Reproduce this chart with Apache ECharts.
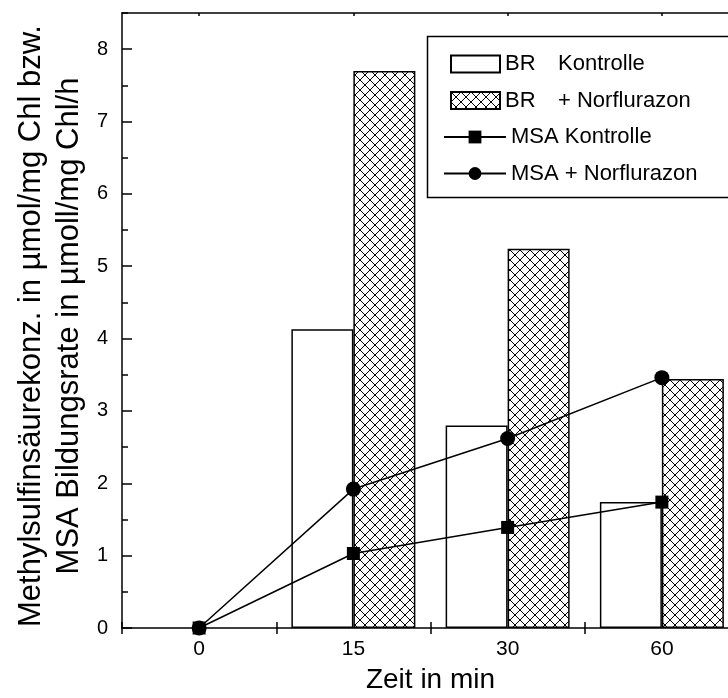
<!DOCTYPE html>
<html>
<head>
<meta charset="utf-8">
<script src="https://cdn.jsdelivr.net/npm/echarts@6/dist/echarts.min.js"></script>
<style>
  html, body { margin: 0; padding: 0; background: #fff; }
  #chart { width: 728px; height: 698px; }
</style>
</head>
<body>
<div id="chart"></div>
<script>
// Daten
const categories = ['0', '15', '30', '60'];
const brKontrolle = ['-', 4.13, 2.80, 1.74];
const brNorflurazon = ['-', 7.70, 5.24, 3.44];
const msaKontrolle = [0, 1.03, 1.39, 1.74];
const msaNorflurazon = [0, 1.92, 2.62, 3.46];
const yMin = 0, yMax = 8.5, yStep = 1, yMinorStep = 0.5;

const FONT = 'Liberation Sans, Arial, sans-serif';

// Kreuzschraffur als Pattern
function hatchPattern(size) {
  const c = document.createElement('canvas');
  c.width = size; c.height = size;
  const ctx = c.getContext('2d');
  ctx.fillStyle = '#fff';
  ctx.fillRect(0, 0, size, size);
  ctx.strokeStyle = '#000';
  ctx.lineWidth = 1;
  ctx.beginPath();
  for (const k of [-size, 0, size]) {
    ctx.moveTo(k, 0); ctx.lineTo(k + size, size);
    ctx.moveTo(k + size, 0); ctx.lineTo(k, size);
  }
  ctx.stroke();
  return c;
}

const chart = echarts.init(document.getElementById('chart'));

const barBorder = { borderColor: '#000', borderWidth: 1.5 };

chart.setOption({
  animation: false,
  backgroundColor: '#fff',
  textStyle: { fontFamily: FONT, color: '#000' },
  // Plotfläche läuft rechts über den Rand hinaus (wie im Original abgeschnitten)
  grid: { left: 122, top: 13, width: 617, bottom: 70, containLabel: false, outerBoundsMode: 'none' },
  legend: [
    {
      data: ['BR Kontrolle', 'BR + Norflurazon'],
      orient: 'vertical', left: 445, top: 48, icon: 'rect',
      itemWidth: 49, itemHeight: 17, itemGap: 14.5, itemTextGap: 13,
      formatter: n => '{a|BR}{b|' + n.replace('BR ', '') + '}',
      textStyle: {
        fontFamily: FONT, fontSize: 22, color: '#000', lineHeight: 22,
        rich: {
          a: { width: 53, fontSize: 22, fontFamily: FONT, color: '#000' },
          b: { fontSize: 22, fontFamily: FONT, color: '#000' }
        }
      }
    },
    {
      data: ['MSA Kontrolle', 'MSA + Norflurazon'],
      orient: 'vertical', left: 438, top: 121,
      itemWidth: 62, itemHeight: 16, itemGap: 14.5, itemTextGap: 4,
      textStyle: { fontFamily: FONT, fontSize: 22, color: '#000', lineHeight: 22 }
    }
  ],
  graphic: [
    {
      type: 'rect', left: 425, top: 34, z: 10,
      shape: { width: 302, height: 161 },
      style: { fill: null, stroke: '#000', lineWidth: 1.5 }
    },
    {
      type: 'text', x: 50, y: 326, rotation: Math.PI / 2,
      style: {
        text: 'Methylsulfinsäurekonz. in µmol/mg Chl bzw.\nMSA Bildungsrate in µmoll/mg Chl/h',
        font: '31px ' + FONT, fill: '#000', lineHeight: 38,
        textAlign: 'center', textVerticalAlign: 'middle'
      }
    }
  ],
  xAxis: [
    {
      type: 'category', data: categories, position: 'bottom',
      name: 'Zeit in min', nameLocation: 'middle', nameGap: 38,
      nameTextStyle: { fontFamily: FONT, fontSize: 28, color: '#000' },
      axisLine: { lineStyle: { color: '#000', width: 1.5 } },
      axisTick: { show: true, length: 6, interval: 0, lineStyle: { color: '#000', width: 1.5 } },
      axisLabel: { fontFamily: FONT, fontSize: 21, color: '#000', margin: 11 },
      splitLine: { show: false }
    },
    {
      type: 'category', data: categories, position: 'bottom',
      axisLine: { show: false },
      axisTick: { show: true, inside: true, length: 6, interval: 0, lineStyle: { color: '#000', width: 1.5 } },
      axisLabel: { show: false },
      splitLine: { show: false }
    },
    {
      type: 'category', data: categories, position: 'top',
      axisLine: { lineStyle: { color: '#000', width: 1.5 } },
      axisTick: { show: true, inside: true, length: 3, alignWithLabel: true, lineStyle: { color: '#000', width: 1.5 } },
      axisLabel: { show: false },
      splitLine: { show: false }
    }
  ],
  yAxis: [
    {
      type: 'value', min: yMin, max: yMax, interval: yStep, position: 'left',
      axisLine: { show: true, lineStyle: { color: '#000', width: 1.5 } },
      axisTick: { show: true, inside: true, length: 10, lineStyle: { color: '#000', width: 1.5 } },
      axisLabel: { fontFamily: FONT, fontSize: 20, color: '#000', margin: 14, showMaxLabel: false },
      splitLine: { show: false }
    },
    {
      type: 'value', min: yMin, max: yMax, interval: yMinorStep, position: 'left',
      axisLine: { show: false },
      axisTick: { show: true, inside: true, length: 6, lineStyle: { color: '#000', width: 1.5 } },
      axisLabel: { show: false },
      splitLine: { show: false }
    }
  ],
  series: [
    {
      name: 'BR Kontrolle', type: 'bar', data: brKontrolle,
      barWidth: 62, barGap: '0%',
      itemStyle: Object.assign({ color: '#fff' }, barBorder)
    },
    {
      name: 'BR + Norflurazon', type: 'bar', data: brNorflurazon,
      barWidth: 62, barGap: '0%',
      itemStyle: Object.assign({ color: { image: hatchPattern(10), repeat: 'repeat' } }, barBorder)
    },
    {
      name: 'MSA Kontrolle', type: 'line', data: msaKontrolle,
      symbol: 'rect', symbolSize: 13, z: 5,
      lineStyle: { color: '#000', width: 1.5 },
      itemStyle: { color: '#000' }
    },
    {
      name: 'MSA + Norflurazon', type: 'line', data: msaNorflurazon,
      symbol: 'circle', symbolSize: 15, z: 5,
      lineStyle: { color: '#000', width: 1.5 },
      itemStyle: { color: '#000' }
    }
  ]
});
</script>
</body>
</html>
